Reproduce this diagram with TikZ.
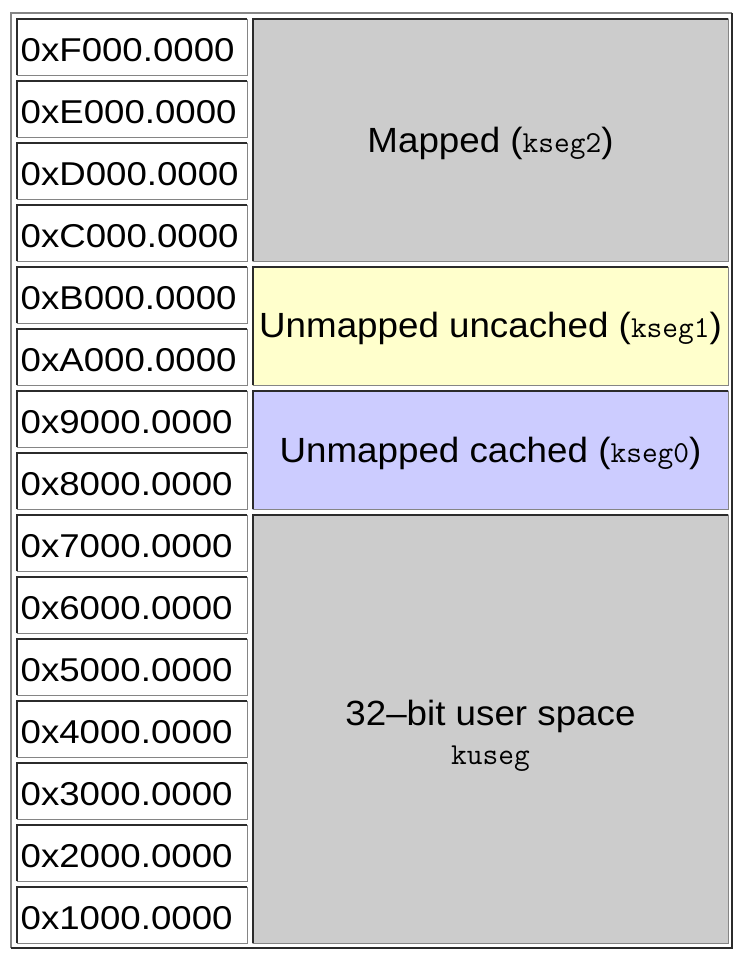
\documentclass[tikz,border=0pt]{standalone}
\usepackage{fontspec}
\setmainfont{Liberation Sans}
\newfontfamily\addrff[FakeStretch=1.11]{Liberation Sans}
\newfontfamily\labff[FakeStretch=1.05]{Liberation Sans}
\definecolor{bdark}{HTML}{2B2B2B}
\definecolor{blight}{HTML}{858585}
\definecolor{cgray}{HTML}{CCCCCC}
\definecolor{cyellow}{HTML}{FFFFCC}
\definecolor{cblue}{HTML}{CCCCFF}
\newcommand\addrfont{\addrff\fontsize{33}{40}\selectfont}
\newcommand\labfont{\labff\fontsize{35}{42}\selectfont}
\newcommand\codefont{\ttfamily\fontsize{30.5}{34}\selectfont}
\newcommand\cellframe[4]{%
  \draw[edge,bdark] (#1+0.75,#4-0.75) -- (#1+0.75,#2+0.75) -- (#3-0.75,#2+0.75);
  \draw[edge,blight] (#3-0.75,#2+0.75) -- (#3-0.75,#4-0.75) -- (#1+0.75,#4-0.75);
}
\tikzset{
  edge/.style={line width=1.5pt},
  cellnode/.style={draw=none, inner sep=0pt, outer sep=0pt, anchor=north west},
  addr/.style={inner sep=0pt, anchor=base west, font=\addrfont},
  lab/.style={inner sep=0pt, anchor=base, font=\labfont},
}
\begin{document}
\begin{tikzpicture}[x=1pt,y=-1pt]
\useasboundingbox[fill=white] (0,0) rectangle (746,964);
% outer table border (outset)
\draw[line width=2pt, blight] (11,948) -- (11,13) -- (732,13);
\draw[line width=2pt, bdark] (732,13) -- (732,948) -- (11,948);
% address cells
\foreach \i/\h in {0/F,1/E,2/D,3/C,4/B,5/A,6/9,7/8,8/7,9/6,10/5,11/4,12/3,13/2,14/1} {
  \pgfmathsetmacro\yt{18+62*\i}
  \node[cellnode, fill=white, minimum width=232, minimum height=58] (a\i) at (16,\yt) {};
  \cellframe{16}{\yt}{248}{\yt+58}
  \node[addr] (t\i) at (20.5,\yt+43.5) {0x\h 000.0000};
}
% segment cells
\node[cellnode, fill=cgray, minimum width=477, minimum height=244] (mapped) at (252,18) {};
\cellframe{252}{18}{729}{262}
\node[lab] (tmapped) at (490.5,152.5) {Mapped ({\codefont kseg2})};

\node[cellnode, fill=cyellow, minimum width=477, minimum height=120] (uncached) at (252,266) {};
\cellframe{252}{266}{729}{386}
\node[lab] (tuncached) at (490.5,337.5) {Unmapped uncached ({\codefont kseg1})};

\node[cellnode, fill=cblue, minimum width=477, minimum height=120] (cached) at (252,390) {};
\cellframe{252}{390}{729}{510}
\node[lab] (tcached) at (490.5,462.5) {Unmapped cached ({\codefont kseg0})};

\node[cellnode, fill=cgray, minimum width=477, minimum height=430] (kuseg) at (252,514) {};
\cellframe{252}{514}{729}{944}
\node[lab] (tuser) at (490.5,725) {32–bit user space};
\node[inner sep=0pt, anchor=base, font=\codefont] (tkuseg) at (490.5,764) {kuseg};
\end{tikzpicture}
\end{document}
